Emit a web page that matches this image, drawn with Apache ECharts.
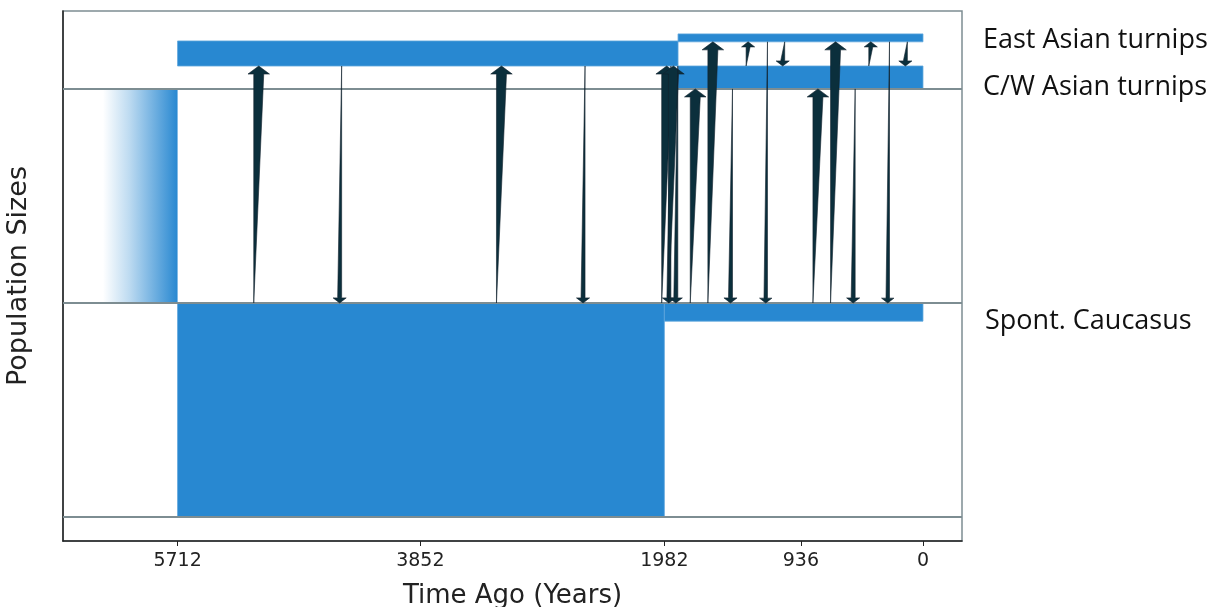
<!DOCTYPE html>
<html><head><meta charset="utf-8">
<script src="https://cdn.jsdelivr.net/npm/echarts@6/dist/echarts.min.js"></script>
<style>html,body{margin:0;padding:0;background:#fff}#chart{width:1220px;height:607px}</style>
</head><body><div id="chart"></div>
<script>
// ---------- DATA ----------
// x-axis tick labels (years ago)
const tickYears = [5712, 3852, 1982, 936, 0];

// Population blocks (sizes in relative units, ancestral Caucasus size = 100)
const blockPop   = ['Caucasus', 'Caucasus', 'CW', 'CW', 'EA'];
const blockStart = [5712, 1982, 5712, 1877, 1877];   // years ago (older edge)
const blockEnd   = [1982, 0, 1877, 0, 0];            // years ago (younger edge)
const blockLow   = [0, 91.5, 210.7, 200, 222];
const blockHigh  = [100, 100, 222.4, 210.7, 225.7];

// Ancestral population (faded): [oldest, split, low, high]
const ancestralBlock = [6284, 5712, 100, 200];

// Population baselines
const baselines = [0, 100, 200];

// Population labels
const popLabels = ['East Asian turnips', 'C/W Asian turnips', 'Spont. Caucasus'];

// Migration events
const migTime = [5090, 4470, 3230, 2605, 1964, 1947, 1912, 1894, 1745, 1610, 1475, 1340, 1205, 1075, 805, 670, 535, 400, 270, 135];
const migFrom = ['Caucasus','CW','Caucasus','CW','Caucasus','CW','Caucasus','CW','Caucasus','Caucasus','CW','CW','EA','EA','Caucasus','Caucasus','CW','CW','EA','EA'];
const migTo   = ['CW','Caucasus','CW','Caucasus','CW','Caucasus','CW','Caucasus','CW','EA','Caucasus','EA','Caucasus','CW','CW','EA','Caucasus','EA','Caucasus','CW'];
const migRate = [1.0, 0.4, 1.0, 0.4, 1.0, 0.4, 1.0, 0.4, 1.0, 1.0, 0.4, 0.4, 0.35, 0.4, 1.0, 1.0, 0.4, 0.4, 0.35, 0.4];

// ---------- BUILD ----------
const BLUE = '#2888d1';
const ARROW = '#0b2f3c';
const GRAY = '#7d8d92';

function blockAt(pop, t) {
  for (let i = 0; i < blockPop.length; i++) {
    if (blockPop[i] === pop && t <= blockStart[i] && t >= blockEnd[i]) return i;
  }
  return -1;
}
const arrowData = migTime.map((t, k) => {
  const a = blockAt(migFrom[k], t), b = blockAt(migTo[k], t);
  const up = blockLow[b] > blockLow[a];
  const y0 = up ? blockHigh[a] : blockLow[a];
  const y1 = up ? blockLow[b] : blockHigh[b];
  return [t, y0, y1, migRate[k]];
});
const blockData = blockPop.map((p, i) => [blockStart[i], blockEnd[i], blockLow[i], blockHigh[i]]);

const chart = echarts.init(document.getElementById('chart'));
const FONT = 'DejaVu Sans';

chart.setOption({
  animation: false,
  backgroundColor: '#fff',
  grid: { left: 63, right: 258, top: 11, bottom: 66, show: true, borderColor: GRAY, borderWidth: 1.5, containLabel: false, outerBoundsMode: 'none' },
  xAxis: {
    type: 'value', inverse: true, min: -299, max: 6590,
    name: 'Time Ago (Years)', nameLocation: 'middle', nameGap: 42,
    nameTextStyle: { fontFamily: FONT, fontSize: 26, color: '#222' },
    axisLine: { show: true, onZero: false, lineStyle: { color: '#222', width: 1.5 } },
    axisTick: { show: true, length: 5, customValues: tickYears, lineStyle: { color: '#222' } },
    axisLabel: { customValues: tickYears, formatter: v => String(v), fontFamily: FONT, fontSize: 19, color: '#222', margin: 11 },
    splitLine: { show: false }
  },
  yAxis: {
    type: 'value', min: -11.2, max: 236.4,
    name: 'Population Sizes', nameLocation: 'middle', nameGap: 31,
    nameTextStyle: { fontFamily: FONT, fontSize: 27, color: '#222' },
    axisLine: { show: true, onZero: false, lineStyle: { color: '#222', width: 1.5 } },
    axisTick: { show: false }, axisLabel: { show: false }, splitLine: { show: false }
  },
  series: [
    {
      type: 'custom', z: 2, silent: true,
      data: [ancestralBlock],
      encode: { x: [0, 1], y: [2, 3] },
      renderItem(params, api) {
        const p0 = api.coord([api.value(0), api.value(3)]);
        const p1 = api.coord([api.value(1), api.value(2)]);
        return { type: 'rect', shape: { x: p0[0], y: p0[1], width: p1[0] - p0[0], height: p1[1] - p0[1] },
          style: { fill: new echarts.graphic.LinearGradient(0, 0, 1, 0, [
            { offset: 0, color: 'rgba(40,136,209,0)' }, { offset: 0.35, color: 'rgba(40,136,209,0.3)' }, { offset: 1, color: BLUE }]) } };
      }
    },
    {
      type: 'custom', z: 2, silent: true,
      data: blockData,
      encode: { x: [0, 1], y: [2, 3] },
      renderItem(params, api) {
        const p0 = api.coord([api.value(0), api.value(3)]);
        const p1 = api.coord([api.value(1), api.value(2)]);
        return { type: 'rect', shape: { x: p0[0], y: p0[1], width: p1[0] - p0[0], height: p1[1] - p0[1] },
          style: { fill: BLUE, stroke: '#5ea6dc', lineWidth: 0.8 } };
      }
    },
    {
      type: 'custom', z: 3, silent: true,
      data: baselines.map(v => [v]),
      encode: { y: 0 },
      renderItem(params, api) {
        const cs = params.coordSys;
        const y = api.coord([0, api.value(0)])[1];
        return { type: 'line', shape: { x1: cs.x, y1: y, x2: cs.x + cs.width, y2: y },
          style: { stroke: GRAY, lineWidth: 2 } };
      }
    },
    {
      type: 'custom', z: 4, silent: true,
      data: arrowData,
      encode: { x: 0, y: [1, 2] },
      renderItem(params, api) {
        const t = api.value(0), r = api.value(3);
        const p0 = api.coord([t, api.value(1)]);
        const p1 = api.coord([t, api.value(2)]);
        const w = r * 10, hw = 1.4 * w + 7.5, hl = 0.35 * hw + 0.5;
        const dir = p1[1] < p0[1] ? -1 : 1;
        const x = p1[0];
        const by = p1[1] - dir * hl;
        const pts = [
          [x + dir * w / 2, p0[1]],
          [x - dir * w / 2, by],
          [x - dir * hw / 2, by],
          [x, p1[1]],
          [x + dir * hw / 2, by],
          [x + dir * w / 2, by]
        ];
        return { type: 'polygon', shape: { points: pts },
          style: { fill: ARROW, stroke: '#12222e', lineWidth: 0.6 } };
      }
    }
  ],
  graphic: [
    { type: 'text', left: 983, top: 27, style: { text: popLabels[0], fontFamily: 'Open Sans', fontSize: 27, fill: '#111' } },
    { type: 'text', left: 983, top: 74, style: { text: popLabels[1], fontFamily: 'Open Sans', fontSize: 27, fill: '#111' } },
    { type: 'text', left: 985, top: 308, style: { text: popLabels[2], fontFamily: 'Open Sans', fontSize: 27, fill: '#111' } }
  ]
});
</script></body></html>
